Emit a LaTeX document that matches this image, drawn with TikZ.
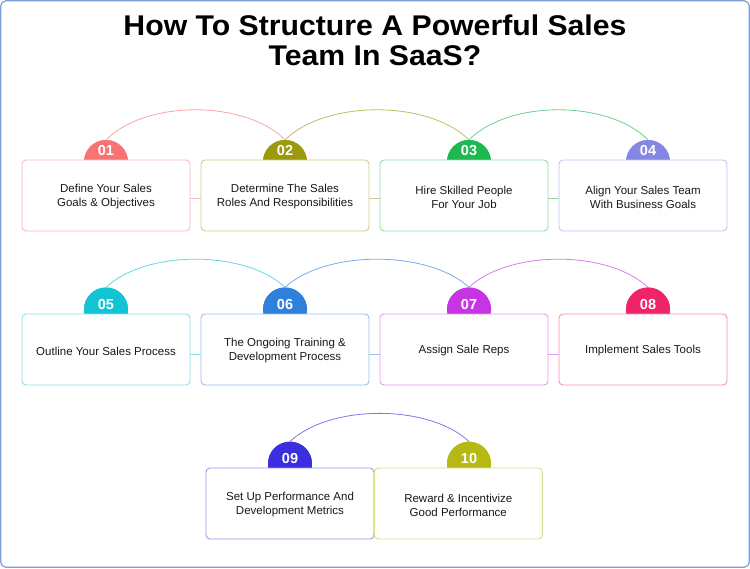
\documentclass[tikz,border=0pt]{standalone}
\usepackage{fontspec}
\setmainfont{Liberation Sans}
\newfontfamily\titlefont[FakeStretch=1.06]{Liberation Sans}
\definecolor{cA}{HTML}{F87474}
\definecolor{cB}{HTML}{9C9A0C}
\definecolor{cC}{HTML}{1DB850}
\definecolor{cD}{HTML}{8588E3}
\definecolor{cE}{HTML}{12C3D3}
\definecolor{cF}{HTML}{2F80DD}
\definecolor{cG}{HTML}{C834E4}
\definecolor{cH}{HTML}{EF2466}
\definecolor{cI}{HTML}{3B2EDE}
\definecolor{cJ}{HTML}{B6B914}
\definecolor{frame}{HTML}{7E9BDE}
\begin{document}
\begin{tikzpicture}[x=1pt,y=-1pt,
  stepbox/.style={draw=#1!50, fill=white, rounded corners=4pt, line width=0.9pt,
    minimum width=168pt, minimum height=71pt, inner sep=0pt, align=center},
  boxtext/.style={align=center, inner sep=0pt,
    font=\fontsize{11.5}{14}\selectfont, text=black!90},
  badge/.style={circle, fill=#1, minimum size=44pt, inner sep=0pt},
  numtxt/.style={text=white, font=\fontsize{14.5}{16}\selectfont\bfseries, inner sep=0pt},
  arcline/.style={draw=#1!65, line width=0.8pt},
  joinline/.style={draw=#1!50, line width=0.9pt}]
\useasboundingbox (0,0) rectangle (750,568);
\draw[frame, line width=1.2pt, rounded corners=5pt] (0.8,0.8) rectangle (749.2,567.2);
\node[font=\titlefont\fontsize{28.5}{30}\selectfont\bfseries, align=center, anchor=base] (title) at (375,65.5)
  {How To Structure A Powerful Sales\\Team In SaaS?};
% badges (circles)
\node[badge=cA] (b1) at (106,162) {};
\node[badge=cB] (b2) at (285,162) {};
\node[badge=cC] (b3) at (469,162) {};
\node[badge=cD] (b4) at (648,162) {};
\node[badge=cE] (b5) at (106,309.5) {};
\node[badge=cF] (b6) at (285,309.5) {};
\node[badge=cG] (b7) at (469,309.5) {};
\node[badge=cH] (b8) at (648,309.5) {};
\node[badge=cI] (b9) at (290,463.7) {};
\node[badge=cJ] (b10) at (469,463.7) {};
% arcs
\path[arcline=cA] (b1.north) .. controls +(40,-40) and +(-40,-40) .. (b2.north);
\path[arcline=cB] (b2.north) .. controls +(41,-40) and +(-41,-40) .. (b3.north);
\path[arcline=cC] (b3.north) .. controls +(40,-40) and +(-40,-40) .. (b4.north);
\path[arcline=cE] (b5.north) .. controls +(40,-37.5) and +(-40,-37.5) .. (b6.north);
\path[arcline=cF] (b6.north) .. controls +(41,-37.5) and +(-41,-37.5) .. (b7.north);
\path[arcline=cG] (b7.north) .. controls +(40,-37.5) and +(-40,-37.5) .. (b8.north);
\path[arcline=cI] (b9.north) .. controls +(40,-37.5) and +(-40,-37.5) .. (b10.north);
% redraw badges over arc ends
\fill[cA] (b1) circle (22pt);
\fill[cB] (b2) circle (22pt);
\fill[cC] (b3) circle (22pt);
\fill[cD] (b4) circle (22pt);
\fill[cE] (b5) circle (22pt);
\fill[cF] (b6) circle (22pt);
\fill[cG] (b7) circle (22pt);
\fill[cH] (b8) circle (22pt);
\fill[cI] (b9) circle (22pt);
\fill[cJ] (b10) circle (22pt);
% boxes
\node[stepbox=cA] (s1) at (106,195.5) {};
\node[stepbox=cB] (s2) at (285,195.5) {};
\node[stepbox=cC] (s3) at (464,195.5) {};
\node[stepbox=cD] (s4) at (643,195.5) {};
\node[stepbox=cE] (s5) at (106,349.5) {};
\node[stepbox=cF] (s6) at (285,349.5) {};
\node[stepbox=cG] (s7) at (464,349.5) {};
\node[stepbox=cH] (s8) at (643,349.5) {};
\node[stepbox=cI] (s9) at (290,503.5) {};
\node[stepbox=cJ] (s10) at (458.3,503.5) {};
% box texts
\node[boxtext] (t1) at (106,197) {Define Your Sales\\Goals \& Objectives};
\node[boxtext] (t2) at (285,197) {Determine The Sales\\Roles And Responsibilities};
\node[boxtext] (t3) at (464,197) {Hire Skilled People\\For Your Job};
\node[boxtext] (t4) at (643,197) {Align Your Sales Team\\With Business Goals};
\node[boxtext] (t5) at (106,351) {Outline Your Sales Process};
\node[boxtext] (t6) at (285,351) {The Ongoing Training \&\\Development Process};
\node[boxtext] (t7) at (464,351) {Assign Sale Reps};
\node[boxtext] (t8) at (643,351) {Implement Sales Tools};
\node[boxtext] (t9) at (290,505) {Set Up Performance And\\Development Metrics};
\node[boxtext] (t10) at (458.3,505) {Reward \& Incentivize\\Good Performance};
% joining lines
\path[joinline=cA] ([yshift=-2.5pt]s1.east) -- ([yshift=-2.5pt]s2.west);
\path[joinline=cB] ([yshift=-2.5pt]s2.east) -- ([yshift=-2.5pt]s3.west);
\path[joinline=cC] ([yshift=-2.5pt]s3.east) -- ([yshift=-2.5pt]s4.west);
\path[joinline=cE] ([yshift=-5pt]s5.east) -- ([yshift=-5pt]s6.west);
\path[joinline=cF] ([yshift=-5pt]s6.east) -- ([yshift=-5pt]s7.west);
\path[joinline=cG] ([yshift=-5pt]s7.east) -- ([yshift=-5pt]s8.west);
% numbers
\node[numtxt] (n1) at (106,150.5) {01};
\node[numtxt] (n2) at (285,150.5) {02};
\node[numtxt] (n3) at (469,150.5) {03};
\node[numtxt] (n4) at (648,150.5) {04};
\node[numtxt] (n5) at (106,304.5) {05};
\node[numtxt] (n6) at (285,304.5) {06};
\node[numtxt] (n7) at (469,304.5) {07};
\node[numtxt] (n8) at (648,304.5) {08};
\node[numtxt] (n9) at (290,458.5) {09};
\node[numtxt] (n10) at (469,458.5) {10};
\end{tikzpicture}
\end{document}
